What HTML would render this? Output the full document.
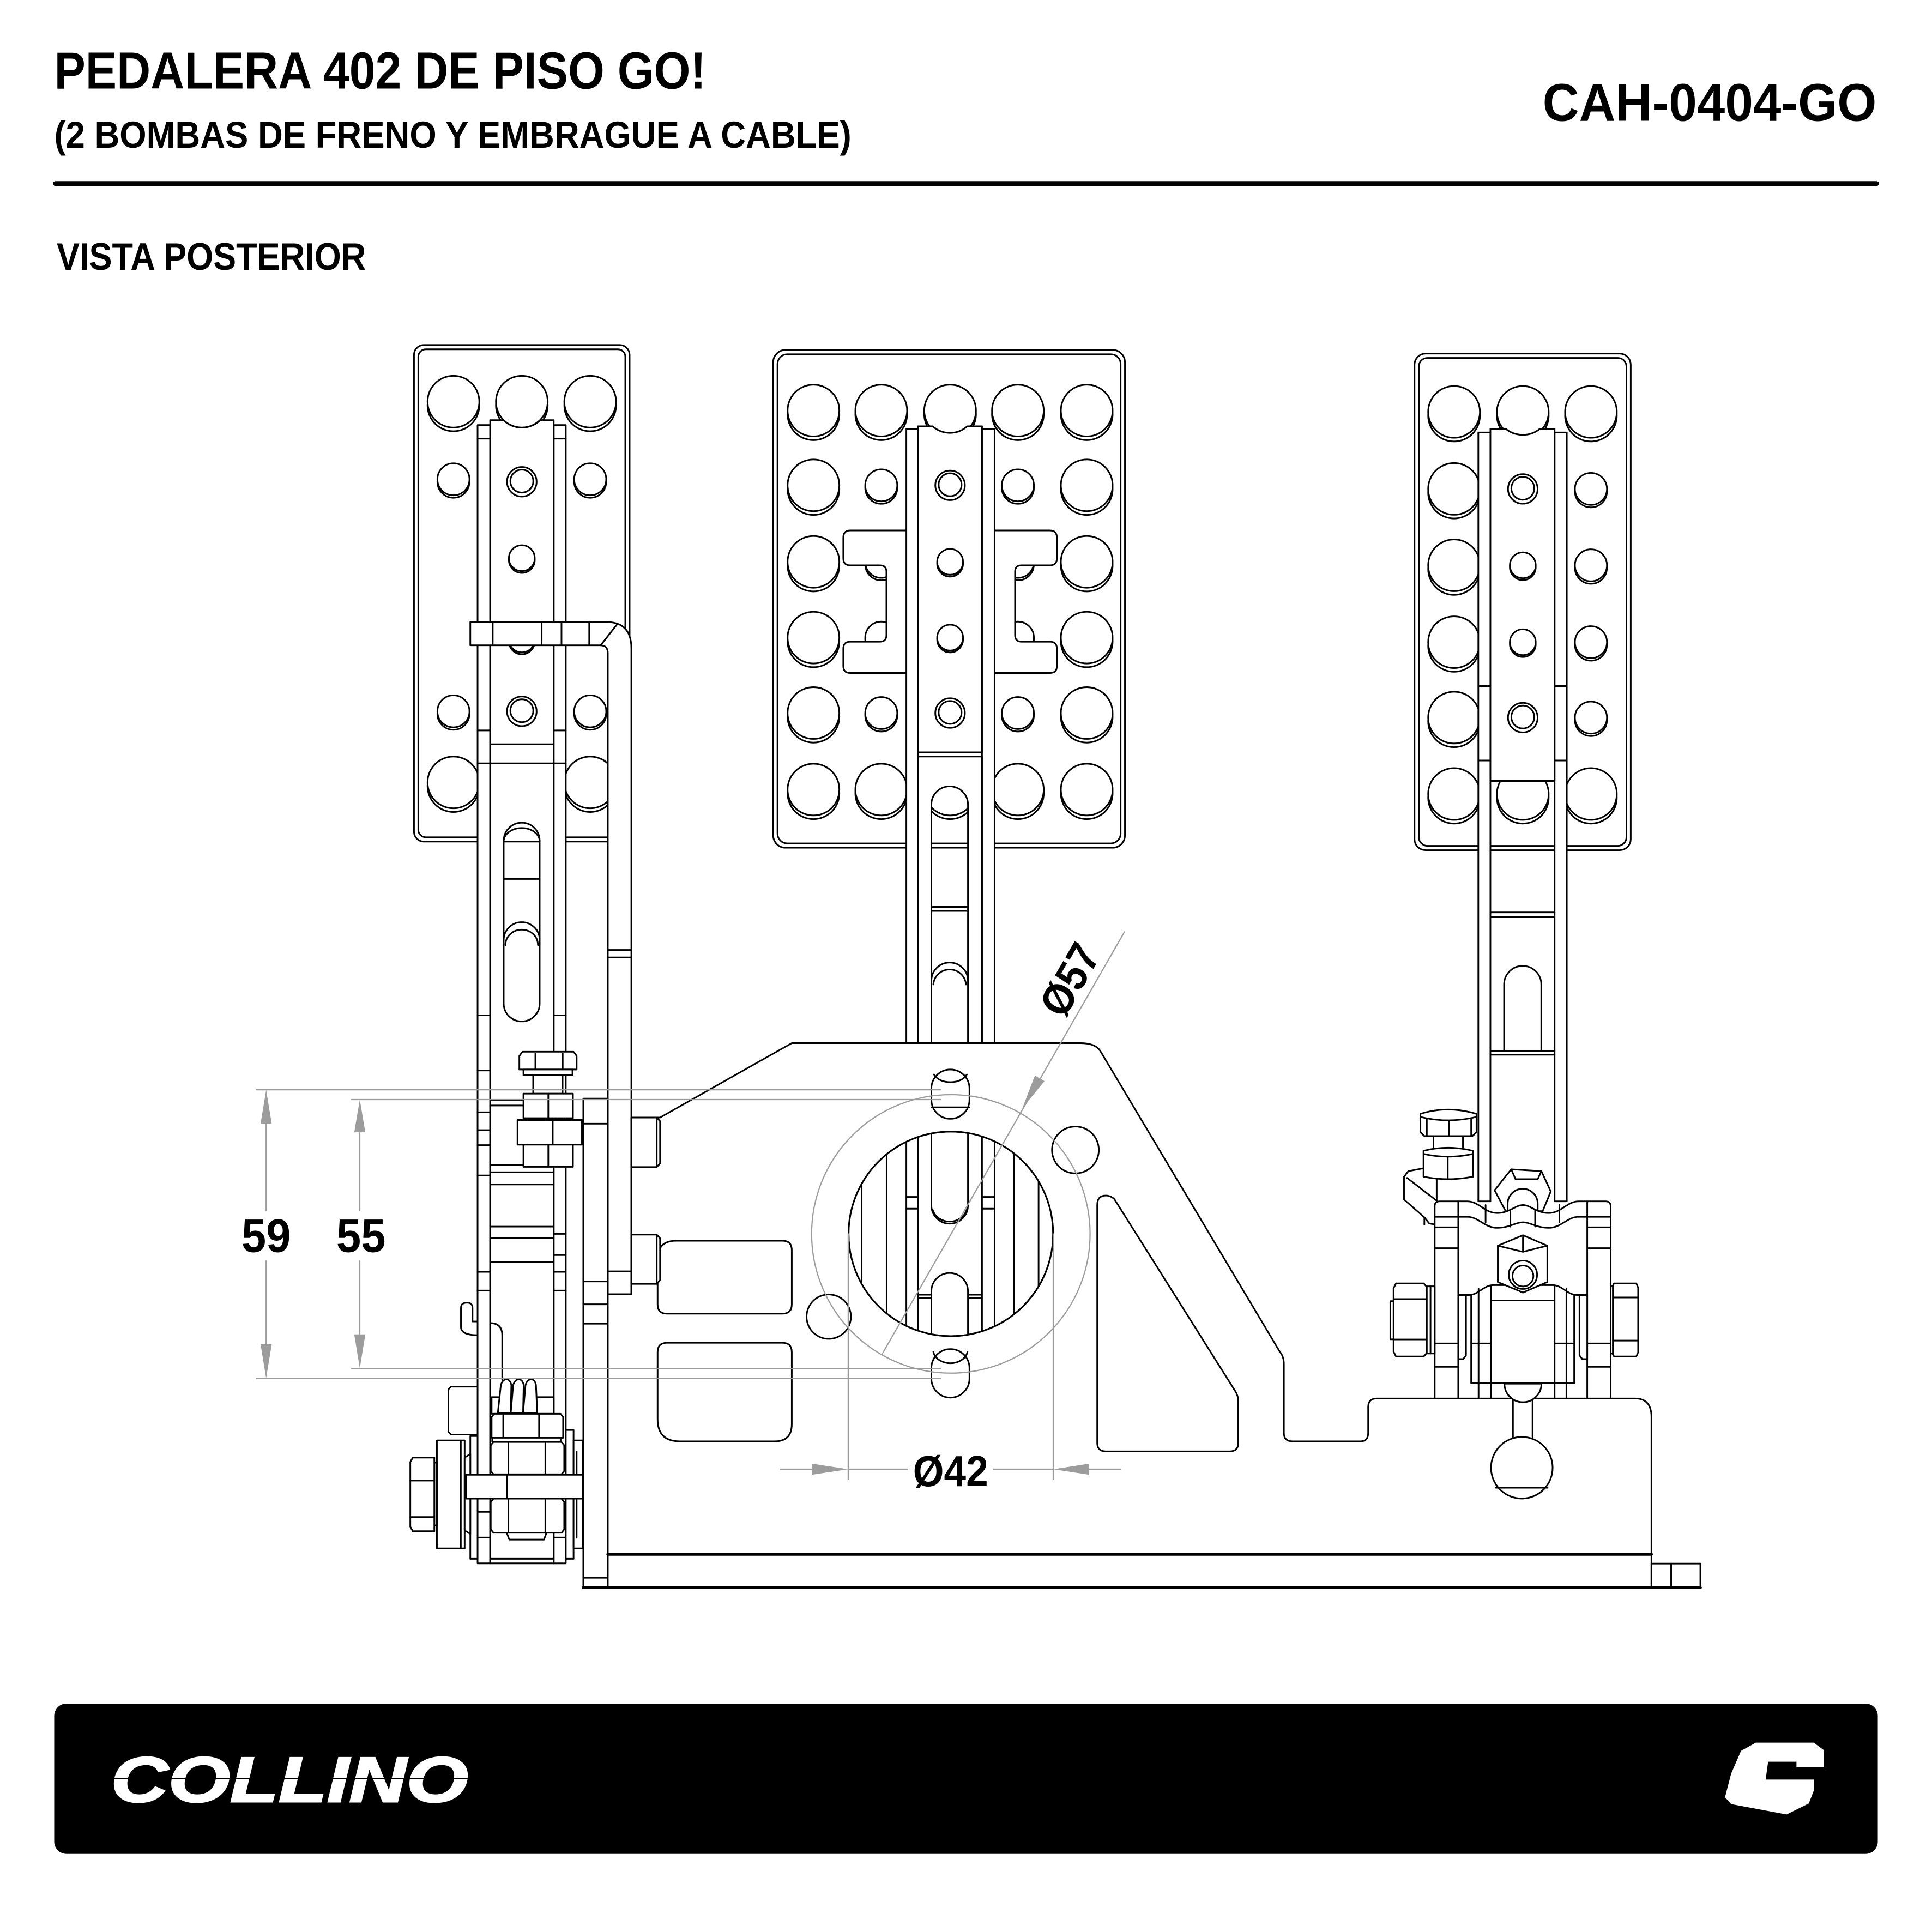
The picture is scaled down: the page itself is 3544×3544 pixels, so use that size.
<!DOCTYPE html>
<html><head><meta charset="utf-8">
<style>
html,body{margin:0;padding:0;background:#fff;}
svg{display:block;}
</style></head><body>
<svg xmlns="http://www.w3.org/2000/svg" width="3544" height="3544" viewBox="0 0 1568 1568">
<defs>
 <g id="bh"><circle cx="0" cy="3" r="21"/><circle cx="0" cy="0" r="21"/></g>
 <g id="sh"><circle cx="0" cy="2" r="13"/><circle cx="0" cy="0" r="13"/></g>
 <g id="dh"><circle cx="0" cy="0" r="12"/><circle cx="0" cy="-0.5" r="9.3"/></g>
 <g id="th"><circle cx="0" cy="1.5" r="10.5"/><circle cx="0" cy="0" r="10.5"/></g>
 <clipPath id="bigc"><circle cx="771.7" cy="1001.4" r="83"/></clipPath>
</defs>
<rect width="1568" height="1568" fill="#fff"/>

<!-- HEADER -->
<g font-family="'Liberation Sans', Arial, sans-serif" font-weight="bold" fill="#000">
<text x="44" y="72" font-size="42.5" textLength="529" lengthAdjust="spacingAndGlyphs">PEDALERA 402 DE PISO GO!</text>
<text x="44" y="120" font-size="30.5" textLength="647" lengthAdjust="spacingAndGlyphs">(2 BOMBAS DE FRENO Y EMBRAGUE A CABLE)</text>
<text x="1252" y="98" font-size="43" textLength="271" lengthAdjust="spacingAndGlyphs">CAH-0404-GO</text>
<text x="46" y="219" font-size="31.3" textLength="251" lengthAdjust="spacingAndGlyphs">VISTA POSTERIOR</text>
</g>
<rect x="43" y="147" width="1482" height="4" rx="2" fill="#000"/>

<!-- FOOTER -->
<rect x="44" y="1382.6" width="1480" height="122" rx="10" fill="#000"/>
<text x="90" y="1462.3" font-family="'Liberation Sans', Arial, sans-serif" font-size="52" font-style="italic" font-weight="bold" fill="#fff" stroke="#fff" stroke-width="1.2" textLength="290" lengthAdjust="spacingAndGlyphs">COLLINO</text>
<path d="M88,1443.6 H382" stroke="#000" stroke-width="0.9"/>
<path d="M1425,1414.3 H1472 L1480,1420.2 V1434.2 H1458 V1429.8 H1435 L1433,1444.3 H1472 V1453.4 L1468,1463.7 L1450,1472.6 L1405,1464.2 L1400,1458.6 L1405,1439.4 L1413,1421 Z" fill="#fff"/>

<!-- DRAWING -->
<g fill="#fff" stroke="#000" stroke-width="1.3" stroke-linejoin="round" stroke-linecap="round">

<!-- pads -->
<rect x="336" y="280" width="175" height="403" rx="8"/>
<rect x="339.5" y="283.5" width="168" height="396" rx="6" fill="none"/>
<rect x="627.5" y="284" width="285.5" height="404" rx="10"/>
<rect x="631" y="287.5" width="278.5" height="397" rx="8" fill="none"/>
<rect x="1148" y="287" width="175.5" height="403" rx="9"/>
<rect x="1151.5" y="290.5" width="168.5" height="396" rx="7" fill="none"/>

<!-- left pad holes -->
<use href="#bh" x="368" y="326"/><use href="#bh" x="423.5" y="326"/><use href="#bh" x="479" y="326"/>
<use href="#sh" x="368" y="389"/><use href="#sh" x="479" y="389"/>
<use href="#sh" x="368" y="577.3"/><use href="#sh" x="479" y="577.3"/>
<use href="#bh" x="368" y="635"/><use href="#bh" x="479" y="635"/>

<!-- center pad holes -->
<use href="#bh" x="660.2" y="333.2"/><use href="#bh" x="715.2" y="333.2"/><use href="#bh" x="771.1" y="333.2"/><use href="#bh" x="826.1" y="333.2"/><use href="#bh" x="882" y="333.2"/>
<use href="#bh" x="660.2" y="393.9"/><use href="#sh" x="715.2" y="393.9"/><use href="#sh" x="826.1" y="393.9"/><use href="#bh" x="882" y="393.9"/>
<use href="#bh" x="660.2" y="456"/><use href="#sh" x="715.2" y="456"/><use href="#sh" x="826.1" y="456"/><use href="#bh" x="882" y="456"/>
<use href="#bh" x="660.2" y="517.5"/><use href="#sh" x="715.2" y="517.5"/><use href="#sh" x="826.1" y="517.5"/><use href="#bh" x="882" y="517.5"/>
<use href="#bh" x="660.2" y="578.7"/><use href="#sh" x="715.2" y="578.7"/><use href="#sh" x="826.1" y="578.7"/><use href="#bh" x="882" y="578.7"/>
<use href="#bh" x="660.2" y="640.8"/><use href="#bh" x="715.2" y="640.8"/><use href="#bh" x="771.1" y="640.8"/><use href="#bh" x="826.1" y="640.8"/><use href="#bh" x="882" y="640.8"/>

<!-- right pad holes -->
<use href="#bh" x="1180.1" y="334.3"/><use href="#bh" x="1235.9" y="334.3"/><use href="#bh" x="1291.2" y="334.3"/>
<use href="#bh" x="1180.1" y="396.8"/><use href="#sh" x="1291.2" y="396.8"/>
<use href="#bh" x="1180.1" y="458.8"/><use href="#sh" x="1291.2" y="458.8"/>
<use href="#bh" x="1180.1" y="521.2"/><use href="#sh" x="1291.2" y="521.2"/>
<use href="#bh" x="1180.1" y="582.4"/><use href="#sh" x="1291.2" y="582.4"/>
<use href="#bh" x="1180.1" y="644.4"/><use href="#bh" x="1235.9" y="644.4"/><use href="#bh" x="1291.2" y="644.4"/>

<!-- H cutout -->
<path d="M690,430.5 H852 Q857.8,430.5 857.8,436.5 V453 Q857.8,458.8 852,458.8 H829 Q823.8,458.8 823.8,464 V515.5 Q823.8,520.8 829,520.8 H852 Q857.8,520.8 857.8,526.5 V540.5 Q857.8,546.2 852,546.2 H690 Q684.4,546.2 684.4,540.5 V526.5 Q684.4,520.8 690,520.8 H714 Q719.4,520.8 719.4,515.5 V464 Q719.4,458.8 714,458.8 H690 Q684.4,458.8 684.4,453 V436.5 Q684.4,430.5 690,430.5 Z"/>

<!-- LEFT ARM -->
<rect x="387.6" y="345" width="10.2" height="923.8"/>
<rect x="449.4" y="345" width="9.8" height="923.8"/>
<path d="M397.8,341 H408.5 A21.5,21.5 0 0 0 438.5,341 H449.4 V1268.8 H397.8 Z"/>
<path fill="none" d="M387.6,356 H397.8 M449.4,356 H459.2 M387.6,592.8 H397.8 M449.4,592.8 H459.2 M397.8,604 H449.4 M387.6,619.5 H459.2 M387.6,824 H397.8 M449.4,824 H459.2 M387.6,868.8 H397.8 M387.6,902.7 H397.8 M387.6,917.2 H397.8 M387.6,929.4 H397.8 M387.6,954 H397.8 M397.8,961.3 H449.4 M397.8,995.5 H449.4 M397.8,1004.8 H449.4 M397.8,1024.2 H449.4 M449.4,1001.4 H459.2 M449.4,1018.6 H459.2 M387.6,1032.2 H397.8 M449.4,1032.2 H459.2 M387.6,1047.4 H397.8 M449.4,1047.4 H459.2 M387.6,1227 H397.8 M449.4,1227 H459.2 M387.6,1247.8 H397.8 M449.4,1247.8 H459.2"/>
<rect x="408.8" y="667.7" width="29.2" height="161.3" rx="14.6"/>
<path fill="none" d="M408.8,683 A14.6,11 0 0 1 438,683 M408.8,683 H438 M408.8,713.4 H438 M408.8,763 A14.6,14.6 0 0 1 438,763 M410.2,767 A13.2,12.5 0 0 1 436.6,767"/>

<!-- CENTER ARM -->
<rect x="735.6" y="348" width="9.3" height="499"/>
<rect x="797" y="348" width="10.2" height="499"/>
<path d="M744.9,346 H757 A21,21 0 0 0 785,346 H797 V610.6 H744.9 Z"/>
<path d="M744.9,614 H797 V847 H785.6 V653 A14.85,14.85 0 0 0 755.9,653 V847 H744.9 Z"/>
<path fill="none" d="M744.9,610.6 H797 M755.9,736 H785.6 M755.9,739.3 H785.6 M755.9,796 A14.85,14.85 0 0 1 785.6,796 M757.5,799 A13.3,13.3 0 0 1 784,799"/>

<!-- RIGHT ARM -->
<rect x="1199.8" y="351" width="9.8" height="624"/>
<rect x="1261.7" y="351" width="9.9" height="624"/>
<path d="M1209.6,348 H1222 A22,22 0 0 0 1249.8,348 H1261.7 V633.8 H1209.6 Z"/>
<path fill="none" d="M1199.8,556.8 H1209.6 M1261.7,556.8 H1271.6 M1199.8,617.2 H1209.6 M1261.7,617.2 H1271.6 M1209.6,740.5 H1261.7 M1209.6,744.4 H1261.7 M1220.7,853 V799 A15.1,15.1 0 0 1 1250.9,799 V853 M1209.6,853 H1261.7 M1209.6,856 H1261.7"/>

<!-- arm holes -->
<use href="#dh" x="423.5" y="391"/><use href="#th" x="423.5" y="453"/><use href="#th" x="423.5" y="519"/><use href="#dh" x="423.5" y="577.3"/>
<use href="#dh" x="771.1" y="393.9"/><use href="#th" x="771.1" y="456"/><use href="#th" x="771.1" y="517.5"/><use href="#dh" x="771.1" y="578.7"/>
<use href="#dh" x="1235.9" y="396.8"/><use href="#th" x="1235.9" y="458.8"/><use href="#th" x="1235.9" y="521.2"/><use href="#dh" x="1235.9" y="582.4"/>

<!-- clamp + L bar -->
<path d="M381.7,504.8 H492 Q512.4,504.8 512.4,526 V1050.4 H493.3 V530 Q493.3,523.7 487,523.7 H381.7 Z"/>
<path fill="none" d="M399.9,504.8 V523.7 M439.6,504.8 V523.7 M455.7,504.8 V523.7 M478.2,504.8 V523.7 M487.5,523.7 L501,506.5 M493.3,771 H512.4 M493.3,777 H512.4 M493.3,1031.8 H512.4"/>

<!-- left vertical plate -->
<rect x="473.4" y="891.6" width="19.9" height="396.9"/>
<path fill="none" d="M473.4,912 H493.3 M473.4,1040 H493.3 M473.4,1058.6 H493.3 M473.4,1074.3 H493.3 M473.4,1280.5 H493.3"/>

<!-- BRACKET -->
<path d="M512.4,907 H535.7 L642.6,846.6 H877 Q889,846.6 893,853 L1038.6,1096.9 Q1042,1101 1042,1107 V1163 Q1042,1169.8 1049,1169.8 H1104 Q1110.4,1169.8 1110.4,1163 V1142 Q1110.4,1135 1117.5,1135 H1327 Q1340.3,1135 1340.3,1150 V1261.4 H493.3 V1050.4 H512.4 Z"/>

<!-- big hole -->
<circle cx="771.7" cy="1001.4" r="83"/>
<g clip-path="url(#bigc)" fill="none">
<path d="M699.3,910 V1090 M719.6,910 V1090 M735.6,910 V1090 M744.9,910 V1090 M797,910 V1090 M807.2,910 V1090 M823,910 V1090 M842.9,910 V1090"/>
<path d="M755.9,910 V978.3 A14.85,14.85 0 0 0 785.6,978.3 V910 M757,982 A14.3,13 0 0 0 784.5,982 M755.9,1090 V1048 A14.85,14.85 0 0 1 785.6,1048 V1090"/>
<path d="M735.6,971.4 H744.9 M735.6,981 H744.9 M797,971.4 H807.2 M797,981 H807.2 M744.9,1050.8 H755.9 M744.9,1053.4 H755.9 M785.6,1050.8 H797 M785.6,1053.4 H797"/>
</g>
<circle cx="771.7" cy="1001.4" r="83" fill="none"/>

<!-- slots in bracket -->
<rect x="755.9" y="868" width="30.9" height="40" rx="15.45"/>
<path fill="none" d="M758,872 A14,9 0 0 0 784.7,872 M755.9,898.7 H786.8"/>
<rect x="755.9" y="1094.9" width="30.9" height="39.4" rx="15.45"/>
<path fill="none" d="M757.5,1097 A14,11 0 0 0 785.2,1097"/>
<circle cx="872.8" cy="933.3" r="19"/>
<circle cx="672.6" cy="1068.6" r="18"/>
<path d="M533.7,1022 Q533.7,1007 548.7,1007 H635 Q642.6,1007 642.6,1014.6 V1058.6 Q642.6,1066.2 635,1066.2 H541.3 Q533.7,1066.2 533.7,1058.6 Z"/>
<path d="M533.7,1097.4 Q533.7,1089.8 541.3,1089.8 H635 Q642.6,1089.8 642.6,1097.4 V1155.8 Q642.6,1169.8 628.6,1169.8 H551.7 Q533.7,1169.8 533.7,1151.8 Z"/>
<path d="M890.5,978 Q890.5,970.3 897.5,970.3 Q901.5,970.3 904.4,973.2 L1002.5,1129 Q1005,1133 1005,1137 V1171 Q1005,1177.9 998,1177.9 H897.5 Q890.5,1177.9 890.5,1171 Z"/>

<!-- BASE -->
<rect x="493.3" y="1261.4" width="847" height="27.1"/>
<rect x="1340.3" y="1269" width="39.7" height="19.5"/>
<path fill="none" d="M1356.3,1269 V1288.5"/>
<path fill="none" stroke-width="2.4" d="M493.3,1261.4 H1340.3 M473.4,1288.5 H1380"/>

<!-- bosses -->
<path d="M512.4,907 H533 L535.7,910 V944.2 L533,947.2 H512.4 Z"/>
<path d="M512.4,1002 H533 L535.7,1005 V1039 L533,1042 H512.4 Z"/>
<path fill="none" d="M533,907 V947.2 M533,1002 V1042"/>

<!-- LEFT TOP NUT GROUP -->
<path fill="none" d="M397.8,892.7 H424.8 M397.8,897.2 H424.8 M397.8,945.5 H424.8 M397.8,951.4 H449.4"/>
<rect x="432.7" y="872.5" width="23.9" height="15.1"/>
<path d="M421.5,857 L424,853.6 H465.5 L468,857 V868 H421.5 Z"/>
<path fill="none" d="M434.5,855 V868 M456.7,855 V868"/>
<rect x="424.8" y="868" width="39.8" height="4.5"/>
<rect x="424.8" y="887.6" width="40.2" height="19.9"/>
<path fill="none" d="M445,887.6 V907.5"/>
<rect x="420" y="909" width="52.3" height="20"/>
<path fill="none" d="M448.6,909 V929"/>
<rect x="424.8" y="929" width="40.2" height="18"/>
<path fill="none" d="M445,929 V947"/>

<!-- LEFT LOWER ASSEMBLY -->
<path fill="none" d="M387.6,1072.5 H383.5 V1061.5 Q383.5,1057.3 379,1057.3 Q374.1,1057.3 374.1,1061.5 V1077 Q374.1,1083.6 387.6,1083.6"/>
<path fill="none" d="M397.8,1073.8 Q407.6,1073.8 407.6,1084 V1120"/>
<path d="M366,1125.4 H387.6 V1164.3 H366 L363.9,1162 V1127.6 Z"/>
<rect x="399" y="1133.9" width="50.4" height="13.5"/>
<path d="M404,1147 L406.5,1124 Q408,1119.5 411,1119.5 Q414,1119.5 415,1124 L414.5,1147 Z"/>
<path d="M414.5,1147 L416.5,1124 Q418,1119.5 421,1119.5 Q424,1119.5 425,1124 L424.5,1147 Z"/>
<path d="M424.5,1147 L426.5,1124 Q428,1119.5 431,1119.5 Q434,1119.5 435,1124 L436,1147 Z"/>
<path d="M399,1150 L401,1147.4 H455 L457,1150 V1166.9 H399 Z"/>
<path fill="none" d="M408.4,1148 V1166.9 M437.5,1148 V1166.9"/>
<rect x="399.5" y="1166.9" width="55.5" height="3.4"/>
<rect x="381.7" y="1165.5" width="5.9" height="99.6"/>
<rect x="459.2" y="1160.6" width="6.3" height="104.5"/>
<rect x="465.5" y="1169" width="7.6" height="87.6"/>
<path fill="none" d="M468,1178 V1248 M397.8,1265.1 H449.4"/>
<rect x="354.6" y="1169" width="19.4" height="87.6"/>
<rect x="374" y="1169" width="3.1" height="87.6"/>
<path d="M377.1,1183 L381.7,1180 V1245 L377.1,1242 Z"/>
<rect x="352.5" y="1187" width="2.1" height="51"/>
<path d="M335,1183 H352.5 V1242.7 H335 L333,1239 V1186.5 Z"/>
<path fill="none" d="M333,1201.6 H352.5 M333,1231.2 H352.5"/>
<path d="M398.3,1173 L400.5,1170.3 H455.7 L457.9,1173 V1193.8 L455.7,1196.5 H400.5 L398.3,1193.8 Z"/>
<path fill="none" d="M412.6,1170.3 V1196.5 M442.6,1170.3 V1196.5"/>
<rect x="378.3" y="1196.9" width="94.8" height="19.4"/>
<path fill="none" d="M411.3,1196.9 V1216.3"/>
<path d="M398.3,1219 L400.5,1216.3 H455.7 L457.9,1219 V1241.3 L455.7,1244 H400.5 L398.3,1241.3 Z"/>
<path fill="none" d="M412.6,1216.3 V1244 M442.6,1216.3 V1244"/>
<path d="M411.3,1244 H443.5 L441.5,1249.5 H413.3 Z"/>

<!-- RIGHT ASSEMBLY -->
<path d="M1139.5,955 L1143,950.5 L1156,948 L1166,950 L1166,994 L1160,993 L1156,988 L1139.5,973.5 Z"/>
<path fill="none" d="M1142,956 L1166,974.5 M1156,988 V994"/>
<rect x="1163.4" y="922" width="23.9" height="12"/>
<path d="M1155.3,934 Q1175,929 1195.5,934 V955 Q1175,959 1155.3,955 Z"/>
<path fill="none" d="M1155.3,936.5 Q1175,941 1195.5,936.5 M1175,939 V957"/>
<path d="M1152.8,904 Q1175,897 1198.3,904 V919 L1195,922 H1156 L1152.8,919 Z"/>
<path fill="none" d="M1152.8,906.5 Q1175,912 1198.3,906.5 M1158,908 V922 M1176,909.5 V922 M1194,908 V922"/>

<path d="M1213,966 L1226.5,949 L1251,950.5 L1258.6,967 L1252,983 L1222,983 Z"/>
<path fill="none" d="M1226.5,949 L1230,957 H1248 L1251,950.5"/>
<path d="M1223.6,990 V977 A12.2,12.2 0 0 1 1248,977 V990 Z"/>

<path d="M1164.4,1135 V979 Q1164.4,975 1168.5,975 H1191 C1200,975 1205,984.5 1215,984.5 C1225,984.5 1230,978 1236,978 C1242,978 1247,984.5 1257,984.5 C1267,984.5 1272,975 1281,975 H1303 Q1307.2,975 1307.2,979 V1135 Z"/>
<path fill="none" d="M1164.4,987.6 H1191 C1200,987.6 1205,996.5 1215,996.5 C1225,996.5 1230,992 1236,992 C1242,992 1247,996.5 1257,996.5 C1267,996.5 1272,987.6 1281,987.6 H1307.2"/>
<path fill="none" d="M1183.5,975 V987.6 M1205.7,978 V992 M1225.8,982 V995.5 M1245.9,982 V995.5 M1265.6,978 V992 M1288.2,975 V987.6"/>
<path fill="none" d="M1183.5,987.6 V1135 M1288.2,987.6 V1135 M1164.4,996.1 H1183.5 M1288.2,996.1 H1307.2 M1164.4,1013 H1183.5 M1288.2,1013 H1307.2 M1164.4,1090.3 H1183.5 M1288.2,1090.3 H1307.2 M1164.4,1109.3 H1183.5 M1288.2,1109.3 H1307.2"/>
<path fill="none" d="M1183.5,1051 H1192 C1200,1051 1204,1043 1212,1043 H1225 C1230,1043 1233,1049 1236,1049 C1239,1049 1242,1043 1247,1043 H1260 C1268,1043 1272,1051 1280,1051 H1288.2"/>
<path fill="none" d="M1194,1051 V1122.6 H1277.6 V1051 M1200,1046 V1135 M1209.9,1044 V1135 M1261.7,1044 V1135 M1271.3,1046 V1135 M1210.3,1055.4 H1261.3 M1194,1090.3 H1209.9 M1261.7,1090.3 H1277.6"/>
<path d="M1183.5,1051 H1189.8 V1100 L1187.5,1103 H1183.5 Z"/>
<path d="M1288.2,1051 H1281.9 V1100 L1284.2,1103 H1288.2 Z"/>
<path d="M1215.6,1011 L1236,1002.5 L1255.8,1011 V1040.5 L1236,1049 L1215.6,1040.5 Z"/>
<path fill="none" d="M1215.6,1011 L1236,1016 L1255.8,1011 M1236,1002.5 V1016"/>
<circle cx="1236" cy="1034.6" r="11.5"/>
<circle cx="1236" cy="1035.6" r="8.5"/>
<path d="M1133,1041.6 H1155.5 L1158,1044.5 V1098 L1155.5,1100.9 H1133 L1131,1097 V1045.5 Z"/>
<path fill="none" d="M1131,1054.3 H1158 M1131,1087.1 H1158 M1131,1056 H1128.4 V1087 H1131"/>
<rect x="1158" y="1044" width="6.4" height="54.5"/>
<path fill="none" d="M1161,1044 V1098.5"/>
<path d="M1310,1041.6 H1328 L1329.5,1045 V1097.5 L1328,1100.9 H1310 L1308.3,1098 V1044.5 Z"/>
<path fill="none" d="M1308.3,1053 H1329.5 M1308.3,1088 H1329.5"/>
<rect x="1307.2" y="1044" width="1.8" height="54.5"/>

<!-- ball joint -->
<rect x="1227.9" y="1130" width="15.9" height="38"/>
<path d="M1221,1123 A15,15 0 0 0 1251,1123 Z"/>
<circle cx="1235.1" cy="1191.2" r="25"/>
<path fill="none" d="M1214,1207.4 H1256"/>
</g>

<!-- DIMENSIONS -->
<g stroke="#9c9c9c" stroke-width="1" fill="none">
<circle cx="771.7" cy="1001.4" r="113"/>
<path d="M208,884.5 H763.6 M208,1118.7 H763.6 M285,892.4 H763.6 M285,1110.6 H763.6"/>
<path d="M216,912 V983 M216,1023 V1091 M292,919 V983 M292,1023 V1083"/>
<path d="M688.4,1001 V1200.8 M854.8,1001 V1200.8"/>
<path d="M632.8,1192.4 H660 M688.4,1192.4 H737 M806,1192.4 H854.8 M882,1192.4 H910"/>
<path d="M912.8,756 L715.8,1099.2"/>
</g>
<g fill="#9c9c9c" stroke="none">
<path d="M216,884.5 L211.5,912 H220.5 Z"/>
<path d="M216,1118.7 L211.5,1091 H220.5 Z"/>
<path d="M292,892.4 L287.5,919 H296.5 Z"/>
<path d="M292,1110.6 L287.5,1083 H296.5 Z"/>
<path d="M688.4,1192.4 L659,1187.9 V1196.9 Z"/>
<path d="M854.8,1192.4 L884,1187.9 V1196.9 Z"/>
<path d="M829.8,899.3 L847.7,877.4 L839.9,872.9 Z"/>
</g>
<g font-family="'Liberation Sans', Arial, sans-serif" font-weight="bold" fill="#000">
<text x="196" y="1016" font-size="38" textLength="40" lengthAdjust="spacingAndGlyphs">59</text>
<text x="273" y="1016" font-size="38" textLength="40" lengthAdjust="spacingAndGlyphs">55</text>
<text x="741" y="1206" font-size="35.5" textLength="61" lengthAdjust="spacingAndGlyphs">Ø42</text>
<text transform="translate(868,795) rotate(-60)" x="-30.5" y="12.5" font-size="35.5" textLength="61" lengthAdjust="spacingAndGlyphs">Ø57</text>
</g>
</svg>
</body></html>
